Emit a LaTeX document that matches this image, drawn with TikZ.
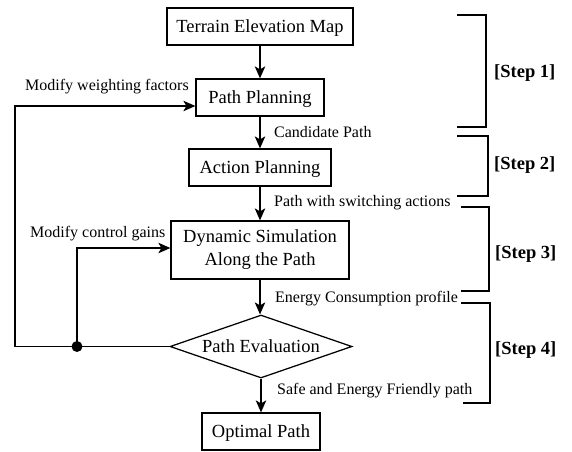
\documentclass[tikz,border=0pt]{standalone}
\usepackage{fontspec}
\setmainfont{Liberation Serif}
\usetikzlibrary{arrows.meta,shapes.geometric,calc}
\begin{document}
\begin{tikzpicture}[x=1pt,y=-1pt,
  box/.style={draw, line width=1.25pt, rectangle, inner sep=0pt,
    font=\fontsize{18.5}{23}\selectfont, text height=12.2pt, text depth=0pt},
  dbox/.style={draw, line width=1.25pt, rectangle, inner sep=0pt, align=center,
    font=\fontsize{18.5}{23}\selectfont},
  dia/.style={draw, line width=1.25pt, diamond, aspect=2.9, inner sep=0pt,
    font=\fontsize{18.5}{23}\selectfont, text height=12.2pt, text depth=0pt},
  lab/.style={inner sep=0pt, anchor=west, font=\fontsize{16}{19}\selectfont,
    text height=10.6pt, text depth=0pt},
  steplab/.style={inner sep=0pt, anchor=west, font=\fontsize{18.5}{23}\selectfont\bfseries,
    text height=12.2pt, text depth=0pt},
  flow/.style={-{Stealth[length=12pt,width=10.5pt,inset=3pt]}, line width=1.25pt},
  brk/.style={line width=1.25pt}]
\useasboundingbox (0,0) rectangle (572,451);

\node[box, minimum width=186pt, minimum height=37pt] (terrain) at (260,26.5) {Terrain Elevation Map};
\node[box, minimum width=128pt, minimum height=37pt] (pp) at (260,97.5) {Path Planning};
\node[box, minimum width=142pt, minimum height=37pt] (ap) at (260,167.5) {Action Planning};
\node[dbox, minimum width=178pt, minimum height=58pt] (ds) at (260,250) {Dynamic Simulation\\Along the Path};
\node[dia, minimum width=182pt, minimum height=63pt] (pe) at (261,346.5) {Path Evaluation};
\node[box, minimum width=118pt, minimum height=37pt] (op) at (261,431.5) {Optimal Path};

\draw[flow] (terrain) -- (pp);
\draw[flow] (pp) -- (ap);
\draw[flow] (ap) -- (ds);
\draw[flow] (ds.south) -- (ds.south |- pe.north);
\draw[flow] (pe.south) -- (pe.south |- op.north);

\node[lab] (l1) at (274,132) {Candidate Path};
\node[lab] (l2) at (274,201) {Path with switching actions};
\node[lab] (l3) at (275,297) {Energy Consumption profile};
\node[lab] (l4) at (277,389) {Safe and Energy Friendly path};
\node[lab] (l5) at (25,85) {Modify weighting factors};
\node[lab] (l6) at (30,232) {Modify control gains};

\coordinate (lo) at (15,346.5);
\coordinate (junc) at (77,346.5);
\draw[flow] (pe.west) -- (lo) |- ([yshift=-8.5pt]pp.west);
\draw[flow] (junc) |- ([yshift=2pt]ds.west);
\fill (junc) circle (5.5pt);

\draw[brk] (457,15) -- (486,15) -- (486,127) -- (457,127);
\draw[brk] (457,136) -- (488,136) -- (488,196) -- (457,196);
\draw[brk] (461,207) -- (489,207) -- (489,291) -- (461,291);
\draw[brk] (461,303) -- (490,303) -- (490,403) -- (463,403);

\node[steplab] (s1) at (494,71) {[Step 1]};
\node[steplab] (s2) at (494,163) {[Step 2]};
\node[steplab] (s3) at (495,252) {[Step 3]};
\node[steplab] (s4) at (495,348) {[Step 4]};
\end{tikzpicture}
\end{document}
